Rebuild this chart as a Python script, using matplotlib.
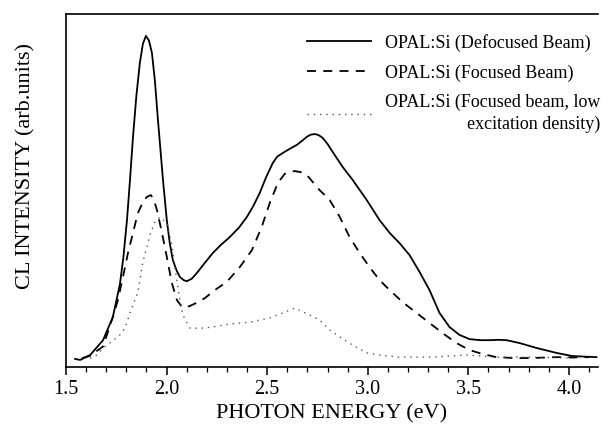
import numpy as np
import matplotlib
matplotlib.use('Agg')
import matplotlib.pyplot as plt

plt.rcParams['font.family'] = ['Liberation Serif', 'DejaVu Serif']

# CL spectra (energy in eV, intensity in arb. units 0..100)
e_defoc = [1.545, 1.57, 1.62, 1.684, 1.733, 1.768, 1.785, 1.803, 1.818, 1.833, 1.850,
           1.867, 1.882, 1.897, 1.912, 1.927, 1.942, 1.957, 1.982, 2.001, 2.016,
           2.031, 2.050, 2.066, 2.085, 2.101, 2.125, 2.150, 2.190, 2.230, 2.270,
           2.314, 2.360, 2.399, 2.430, 2.463, 2.495, 2.528, 2.550, 2.577, 2.612,
           2.647, 2.672, 2.697, 2.716, 2.736, 2.756, 2.776, 2.800, 2.826, 2.875,
           2.925, 2.995, 3.059, 3.109, 3.158, 3.208, 3.258, 3.307, 3.357, 3.407,
           3.456, 3.506, 3.560, 3.605, 3.650, 3.690, 3.754, 3.839, 3.938, 4.017,
           4.137]
i_defoc = [2.3, 2.0, 3.4, 7.6, 14.2, 23.5, 31.0, 41.6, 53.0, 65.2, 77.0,
           86.1, 91.5, 93.8, 92.5, 89.0, 81.0, 70.0, 53.0, 41.6, 35.0,
           30.3, 27.3, 25.5, 24.6, 24.3, 25.0, 26.6, 29.5, 32.3, 34.6,
           36.8, 39.5, 42.5, 45.5, 49.3, 53.8, 57.8, 59.6, 60.6, 61.8,
           62.9, 64.0, 65.2, 65.8, 66.0, 65.7, 64.9, 63.2, 60.9, 56.7,
           53.0, 47.3, 41.6, 38.0, 35.1, 31.7, 26.9, 21.8, 15.3, 11.3,
           9.1, 7.9, 7.6, 7.6, 7.7, 7.6, 6.8, 5.4, 4.0, 3.1,
           2.8]

e_foc = [1.579, 1.62, 1.684, 1.733, 1.758, 1.783, 1.808, 1.833, 1.857, 1.882,
         1.902, 1.922, 1.937, 1.952, 1.977, 2.001, 2.026, 2.051, 2.076, 2.096,
         2.116, 2.150, 2.190, 2.240, 2.299, 2.364, 2.424, 2.473, 2.513, 2.553,
         2.587, 2.612, 2.637, 2.667, 2.697, 2.761, 2.811, 2.861, 2.910, 2.960,
         3.009, 3.059, 3.109, 3.173, 3.243, 3.307, 3.372, 3.441, 3.506, 3.570,
         3.640, 3.739, 3.840, 3.938, 4.020, 4.102]
i_foc = [2.5, 3.2, 5.8, 14.2, 19.0, 25.5, 32.3, 38.0, 43.6, 46.7,
         48.2, 48.7, 47.3, 44.5, 38.0, 31.2, 23.8, 19.0, 17.0, 16.9,
         17.3, 18.2, 19.5, 21.8, 24.1, 28.3, 33.1, 39.7, 46.5, 52.1,
         54.7, 55.3, 55.5, 55.2, 54.4, 50.1, 47.3, 42.5, 36.8, 32.3,
         28.3, 24.6, 21.8, 18.4, 15.3, 12.5, 9.6, 6.8, 4.8, 3.7,
         2.8, 2.5, 2.6, 2.8, 2.7, 2.8]

e_low = [1.619, 1.654, 1.684, 1.718, 1.768, 1.793, 1.818, 1.857, 1.882, 1.902,
         1.917, 1.942, 1.967, 2.001, 2.026, 2.041, 2.056, 2.066, 2.081, 2.116,
         2.175, 2.225, 2.314, 2.414, 2.513, 2.577, 2.637, 2.712, 2.761, 2.811,
         2.861, 2.925, 2.995, 3.059, 3.158, 3.322, 3.491, 3.640, 3.804, 4.052]
i_low = [2.5, 3.4, 5.4, 6.8, 9.1, 11.0, 15.3, 21.2, 29.7, 34.0,
         37.4, 41.1, 42.5, 40.8, 34.6, 28.3, 22.7, 19.0, 14.7, 11.0,
         11.0, 11.3, 12.2, 12.7, 13.9, 15.3, 16.7, 14.7, 13.3, 10.5,
         8.5, 6.2, 4.0, 3.4, 2.8, 2.8, 3.4, 2.8, 2.8, 2.5]

labels = ['OPAL:Si (Defocused Beam)',
          'OPAL:Si (Focused Beam)',
          'OPAL:Si (Focused beam, low\nexcitation density)']

fig = plt.figure(figsize=(6.08, 4.28), dpi=100)
ax = fig.add_axes([0.1086, 0.1425, 0.875, 0.8248])

ax.plot(e_defoc, i_defoc, color='black', lw=1.3, ls='-', label=labels[0])
ax.plot(e_foc, i_foc, color='black', lw=1.3, ls=(0, (5, 4)), label=labels[1])
ax.plot(e_low, i_low, color='#555555', lw=1.0, ls=(0, (1, 3.5)), label=labels[2])

ax.set_xlim(1.5, 4.145)
ax.set_ylim(0, 100)
ax.set_xticks(np.arange(1.5, 4.01, 0.5))
ax.set_xticks(np.arange(1.5, 4.15, 0.1), minor=True)
ax.set_xticklabels(['1.5', '2.0', '2.5', '3.0', '3.5', '4.0'])
ax.set_yticks([])
ax.tick_params(axis='x', which='major', direction='out', length=6, width=1.1,
               labelsize=14.5, pad=3)
ax.tick_params(axis='x', which='minor', direction='out', length=3.5, width=0.9)
ax.spines['right'].set_visible(False)
for s in ['left', 'top', 'bottom']:
    ax.spines[s].set_linewidth(1.2)

ax.set_xlabel('PHOTON ENERGY (eV)', fontsize=16, labelpad=4)
ax.set_ylabel('CL INTENSITY (arb.units)', fontsize=16)
ax.yaxis.set_label_coords(-0.058, 0.57)

leg = ax.legend(loc='upper right', bbox_to_anchor=(1.025, 0.975), frameon=False,
                fontsize=13, handlelength=3.5, handletextpad=0.8,
                labelspacing=0.7, borderaxespad=0.2)
for t in leg.get_texts():
    t.set_multialignment('right')
    t.set_linespacing(1.35)

fig.savefig('out.png', dpi=100)
